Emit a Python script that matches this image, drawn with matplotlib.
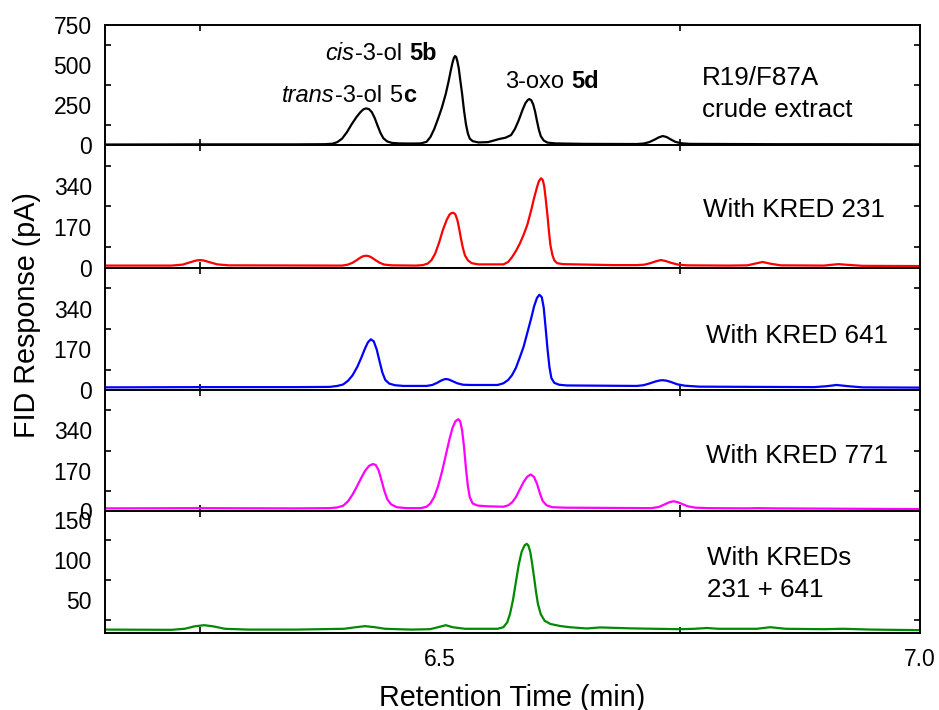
import matplotlib
matplotlib.use("Agg")
import matplotlib.pyplot as plt
from matplotlib.ticker import FixedLocator

plt.rcParams["font.family"] = ["Liberation Sans", "DejaVu Sans"]

# ---- GC-FID traces: retention time (min) and FID response (pA) ----
t_crude = [6.151, 6.250, 6.350, 6.380, 6.388, 6.393, 6.398, 6.403, 6.408, 6.413, 6.417,
           6.420, 6.423, 6.426, 6.429, 6.432, 6.435, 6.438, 6.441, 6.445, 6.450, 6.457,
           6.470, 6.480, 6.486, 6.490, 6.494, 6.498, 6.502, 6.506, 6.509, 6.511, 6.513,
           6.5145, 6.5156, 6.5168, 6.518, 6.5195, 6.521, 6.523, 6.525, 6.527, 6.529,
           6.531, 6.534, 6.540, 6.550, 6.556, 6.562, 6.568, 6.574, 6.578, 6.582, 6.586,
           6.589, 6.5915, 6.593, 6.595, 6.597, 6.599, 6.601, 6.603, 6.605, 6.608, 6.612,
           6.620, 6.650, 6.705, 6.712, 6.718, 6.724, 6.728, 6.732, 6.736, 6.740, 6.745,
           6.751, 6.760, 6.850, 6.900, 7.0]
fid_crude = [3, 4, 4, 5, 8, 18, 40, 80, 130, 175, 205,
             222, 229, 224, 205, 168, 120, 75, 42, 22, 13, 10,
             9, 10, 20, 50, 100, 165, 235, 320, 400, 460, 515,
             545, 556, 550, 525, 480, 410, 320, 215, 130, 72,
             40, 24, 16, 18, 28, 38, 45, 62, 100, 155, 220,
             262, 282, 287, 280, 255, 210, 150, 95, 55, 28, 15,
             10, 7, 6, 9, 18, 35, 48, 56, 50, 36, 20,
             11, 7, 5, 5, 4]

t_k231 = [6.151, 6.220, 6.232, 6.240, 6.246, 6.250, 6.254, 6.260, 6.268, 6.280, 6.398,
          6.404, 6.409, 6.413, 6.417, 6.420, 6.423, 6.426, 6.429, 6.433, 6.437, 6.442,
          6.450, 6.475, 6.482, 6.487, 6.491, 6.495, 6.499, 6.503, 6.507, 6.510, 6.512,
          6.514, 6.516, 6.518, 6.520, 6.522, 6.524, 6.526, 6.529, 6.533, 6.540, 6.566,
          6.571, 6.575, 6.579, 6.583, 6.587, 6.591, 6.595, 6.598, 6.601, 6.603, 6.6052,
          6.607, 6.6085, 6.610, 6.612, 6.6135, 6.615, 6.617, 6.619, 6.622, 6.628, 6.680,
          6.705, 6.713, 6.719, 6.725, 6.730, 6.735, 6.741, 6.748, 6.757, 6.800, 6.820,
          6.828, 6.836, 6.844, 6.855, 6.900, 6.907, 6.915, 6.925, 6.940, 7.0]
fid_k231 = [10, 10, 14, 24, 31, 33, 31, 24, 15, 11, 10,
            14, 22, 32, 43, 49, 51, 49, 43, 32, 22, 14,
            11, 10, 12, 18, 32, 60, 105, 158, 200, 222, 228,
            229, 222, 200, 162, 118, 80, 52, 32, 20, 15, 15,
            25, 45, 70, 100, 137, 180, 240, 290, 335, 360, 372,
            365, 340, 290, 215, 150, 95, 55, 32, 20, 16, 12,
            12, 14, 20, 28, 33, 29, 21, 14, 11, 10, 11,
            18, 25, 18, 11, 10, 13, 16, 13, 9, 8]

t_k641 = [6.151, 6.250, 6.350, 6.385, 6.393, 6.399, 6.404, 6.409, 6.414, 6.418, 6.422,
          6.425, 6.428, 6.431, 6.434, 6.437, 6.440, 6.443, 6.447, 6.453, 6.462, 6.486,
          6.492, 6.497, 6.501, 6.504, 6.506, 6.509, 6.513, 6.518, 6.524, 6.532, 6.560,
          6.566, 6.571, 6.575, 6.579, 6.583, 6.587, 6.591, 6.595, 6.598, 6.601, 6.6035,
          6.606, 6.608, 6.610, 6.612, 6.614, 6.616, 6.619, 6.624, 6.632, 6.705, 6.712,
          6.718, 6.724, 6.729, 6.732, 6.736, 6.741, 6.747, 6.755, 6.770, 6.890, 6.903,
          6.913, 6.925, 6.940, 7.0]
fid_k641 = [11, 12, 12, 13, 17, 23, 38, 62, 98, 135, 175,
            200, 212, 203, 170, 120, 72, 42, 27, 20, 17, 17,
            21, 30, 39, 44, 46, 44, 37, 28, 22, 21, 21,
            28, 42, 62, 92, 135, 180, 240, 300, 350, 385, 398,
            388, 345, 260, 170, 95, 50, 30, 22, 19, 17, 20,
            27, 35, 40, 41, 39, 33, 24, 18, 14, 12, 16,
            21, 16, 11, 10]

t_k771 = [6.151, 6.250, 6.350, 6.385, 6.393, 6.399, 6.404, 6.409, 6.414, 6.418, 6.422,
          6.426, 6.430, 6.433, 6.436, 6.439, 6.442, 6.445, 6.449, 6.455, 6.465, 6.480,
          6.486, 6.490, 6.494, 6.498, 6.502, 6.506, 6.510, 6.513, 6.516, 6.519, 6.521,
          6.523, 6.525, 6.527, 6.529, 6.531, 6.534, 6.539, 6.548, 6.566, 6.571, 6.575,
          6.579, 6.583, 6.587, 6.591, 6.5945, 6.598, 6.601, 6.604, 6.607, 6.611, 6.617,
          6.630, 6.720, 6.728, 6.734, 6.739, 6.743, 6.747, 6.752, 6.758, 6.766, 6.780,
          6.820, 6.830, 6.850, 7.0]
fid_k771 = [11, 12, 11, 12, 15, 22, 40, 70, 108, 140, 170,
            190, 198, 194, 172, 130, 85, 50, 28, 16, 12, 12,
            18, 32, 60, 105, 165, 235, 305, 350, 378, 387, 378,
            340, 270, 180, 105, 58, 32, 23, 20, 18, 24, 36,
            58, 90, 122, 145, 154, 143, 115, 75, 42, 24, 16,
            14, 12, 17, 28, 37, 41, 38, 30, 20, 14, 12,
            11, 12, 11, 8]

t_k231_641 = [6.151, 6.220, 6.234, 6.244, 6.2542, 6.264, 6.276, 6.300, 6.350, 6.400, 6.4125,
              6.4219, 6.432, 6.4427, 6.470, 6.4896, 6.498, 6.506, 6.513, 6.526, 6.560,
              6.566, 6.570, 6.573, 6.576, 6.579, 6.582, 6.585, 6.588, 6.5903, 6.592, 6.594,
              6.596, 6.598, 6.600, 6.602, 6.605, 6.609, 6.615, 6.625, 6.635, 6.6528, 6.6667,
              6.700, 6.750, 6.765, 6.778, 6.790, 6.830, 6.844, 6.860, 6.900, 6.920, 6.950,
              7.0]
fid_k231_641 = [13, 12.7, 14, 17, 18.5, 17, 14, 13, 13, 14, 16,
                17.3, 16, 14, 13, 13.5, 16, 18.5, 16, 14, 14,
                16, 22, 33, 50, 72, 94, 110, 118, 120, 118, 110,
                95, 78, 60, 45, 32, 24, 20, 17.5, 16, 14.4, 15.7,
                14.5, 13.5, 14, 15, 14, 14, 16, 14, 13.5, 14, 13,
                12.3]

traces = [
    (t_crude, fid_crude, "black"),
    (t_k231, fid_k231, "#ff0000"),
    (t_k641, fid_k641, "#0000ff"),
    (t_k771, fid_k771, "#ff00ff"),
    (t_k231_641, fid_k231_641, "#008a00"),
]

y_limits = [(0, 750), (0, 510), (0, 510), (0, 510), (8.75, 161)]
y_labels = [[0, 250, 500, 750], [0, 170, 340], [0, 170, 340], [0, 170, 340], [50, 100, 150]]
y_minor = [[125, 375, 625], [85, 255, 425], [85, 255, 425], [85, 255, 425], [25, 75, 125]]

x_limits = (6.151, 7.0)
x_labels = [6.5, 7.0]
x_minor = [6.25, 6.75]

# ---- figure layout in pixels ----
W, H = 939, 710
fig = plt.figure(figsize=(W / 100, H / 100), dpi=100)
LEFT, RIGHT = 105, 920
edges = [25, 145, 268, 390, 511, 633]

for i, (t, v, col) in enumerate(traces):
    top, bot = edges[i], edges[i + 1]
    ax = fig.add_axes([LEFT / W, 1 - bot / H, (RIGHT - LEFT) / W, (bot - top) / H])
    ax.plot(t, v, color=col, lw=1.6, solid_joinstyle="round", antialiased=True)
    ax.set_xlim(*x_limits)
    ax.set_ylim(*y_limits[i])
    ax.xaxis.set_major_locator(FixedLocator(x_labels))
    ax.xaxis.set_minor_locator(FixedLocator(x_minor))
    ax.yaxis.set_major_locator(FixedLocator(y_labels[i]))
    ax.yaxis.set_minor_locator(FixedLocator(y_minor[i]))
    ax.set_yticklabels([str(v_) for v_ in y_labels[i]])
    ax.tick_params(which="major", length=0)
    ax.tick_params(axis="y", which="major", pad=9.5, labelsize=16.5)
    ax.tick_params(axis="x", which="major", pad=11, labelsize=16.5)
    ax.tick_params(which="minor", direction="in", length=4, width=1.2,
                   top=True, bottom=True, left=True, right=True)
    if i < len(traces) - 1:
        ax.tick_params(axis="x", which="both", labelbottom=False)
    else:
        ax.set_xticklabels(["6.5", "7.0"])
    for s in ax.spines.values():
        s.set_linewidth(1.4)

renderer = fig.canvas.get_renderer()


def text_width(s, **kw):
    t = fig.text(0, 0, s, **kw)
    w = t.get_window_extent(renderer).width
    t.remove()
    return w


def rich_text(x_px, y_px, pieces, size):
    """Draw a run of differently styled pieces on one baseline."""
    space = text_width("a a", fontsize=size) - text_width("aa", fontsize=size)
    x = x_px
    for piece in pieces:
        if piece is None:
            x += space
            continue
        s, style, weight = piece
        t = fig.text(x / W, 1 - y_px / H, s, fontsize=size, style=style,
                     weight=weight, ha="left", va="baseline")
        x += t.get_window_extent(renderer).width + 0.5


N = "normal"
rich_text(325, 60, [("cis", "italic", N), ("-3-ol", N, N), None, ("5b", N, "bold")], 17)
rich_text(282, 101.7, [("trans", "italic", N), ("-3-ol", N, N), None, ("5", N, N),
                       ("c", N, "bold")], 17)
rich_text(505, 88.3, [("3-oxo", N, N), None, ("5d", N, "bold")], 17)

side_labels = [
    ("R19/F87A", 702, 85),
    ("crude extract", 702, 117),
    ("With KRED 231", 703, 217),
    ("With KRED 641", 706, 342.7),
    ("With KRED 771", 706, 462.7),
    ("With KREDs", 707, 565),
    ("231 + 641", 707, 597),
]
for s, x, y in side_labels:
    fig.text(x / W, 1 - y / H, s, fontsize=18.7, ha="left", va="baseline")

fig.text(27 / W, 1 - 315 / H, "FID Response (pA)", fontsize=20.7, rotation=90,
         ha="center", va="center")
fig.text(512 / W, 1 - 706 / H, "Retention Time (min)", fontsize=20.7,
         ha="center", va="baseline")

fig.savefig("out.png", dpi=100)
